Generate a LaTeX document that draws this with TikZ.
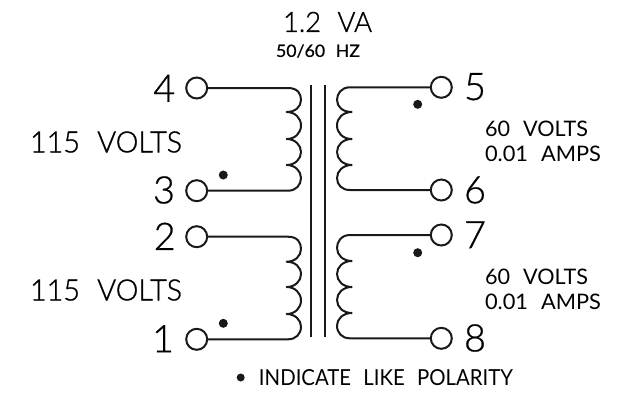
\documentclass[tikz,border=0pt]{standalone}
\usepackage{fontspec}
\usepackage{graphicx}
\setmainfont[FakeBold=0.6]{Lato Light}
\newfontfamily\labfont{Lato}
\newfontfamily\hzfont[FakeBold=0.6]{Lato}
\newfontfamily\bigfont[FakeBold=1]{Lato Light}
\newcommand{\wsp}{\hspace{0.6em}}
\newcommand{\fitbox}[3]{\resizebox{#1pt}{#2pt}{#3}}
\tikzset{
  wire/.style={line width=2pt,line cap=round,line join=round,black!90},
  core/.style={line width=2pt,black!90},
  term/.style={circle,draw=black!90,line width=2pt,minimum size=21pt,inner sep=0pt,fill=white},
  pol/.style={circle,fill=black!90,minimum size=9pt,inner sep=0pt},
  num/.style={font=\fontsize{38}{38}\selectfont,inner sep=0pt,anchor=center},
  lab/.style={font=\bigfont,inner sep=0pt,anchor=center},
  reg/.style={font=\labfont,inner sep=0pt,anchor=center},
  hzlab/.style={font=\hzfont,inner sep=0pt,anchor=center}
}
\begin{document}
\begin{tikzpicture}[x=1pt,y=-1pt]
\useasboundingbox (0,0) rectangle (631,400);
\fill[white] (0,0) rectangle (631,400);
% core
\coordinate (c1t) at (310.7,85); \coordinate (c1b) at (310.7,337);
\coordinate (c2t) at (325.3,85); \coordinate (c2b) at (325.3,337);
\draw[core] (c1t) -- (c1b);
\draw[core] (c2t) -- (c2b);
% terminals
\node[term] (t4) at (196.7,88) {};
\node[term] (t3) at (196.7,190.7) {};
\node[term] (t2) at (196.7,236.7) {};
\node[term] (t1) at (196.7,339.3) {};
\node[term] (t5) at (441.3,87.3) {};
\node[term] (t6) at (441.3,190) {};
\node[term] (t7) at (441.3,235) {};
\node[term] (t8) at (441.3,338.3) {};
% windings
\draw[wire] (t4.east) -- (288,88)
  .. controls (298,88) and (301,94) .. (301,100)
  .. controls (301,107) and (295,112) .. (286.7,112)
  .. controls (295,112) and (301,118) .. (301,125.5)
  .. controls (301,133) and (295,139) .. (286.7,139)
  .. controls (295,139) and (301,145) .. (301,152)
  .. controls (301,159) and (295,165) .. (286.7,165)
  .. controls (295,165) and (301,171) .. (301,178)
  .. controls (301,185) and (296,190.7) .. (288,190.7) -- (t3.east);
\draw[wire] (t2.east) -- (288,236.7)
  .. controls (298,236.7) and (301,243) .. (301,249)
  .. controls (301,256) and (295,261.7) .. (286.7,261.7)
  .. controls (295,261.7) and (301,267) .. (301,274.3)
  .. controls (301,281) and (295,287) .. (286.7,287)
  .. controls (295,287) and (301,293) .. (301,300.5)
  .. controls (301,308) and (295,314) .. (286.7,314)
  .. controls (295,314) and (301,320) .. (301,326.5)
  .. controls (301,334) and (296,339.3) .. (288,339.3) -- (t1.east);
\draw[wire] (t5.west) -- (350,87.3)
  .. controls (341,87.3) and (337,94) .. (337,100)
  .. controls (337,107) and (343,112) .. (351.7,112)
  .. controls (343,112) and (337,118) .. (337,125.5)
  .. controls (337,133) and (343,139) .. (351.7,139)
  .. controls (343,139) and (337,145) .. (337,152)
  .. controls (337,159) and (343,165) .. (351.7,165)
  .. controls (343,165) and (337,171) .. (337,178)
  .. controls (337,185) and (342,190) .. (350,190) -- (t6.west);
\draw[wire] (t7.west) -- (350,235)
  .. controls (341,235) and (337,242) .. (337,248)
  .. controls (337,255) and (343,261) .. (351.7,261)
  .. controls (343,261) and (337,267) .. (337,274)
  .. controls (337,281) and (343,287) .. (351.7,287)
  .. controls (343,287) and (337,293) .. (337,300)
  .. controls (337,307) and (343,313) .. (351.7,313)
  .. controls (343,313) and (337,319) .. (337,325.5)
  .. controls (337,333) and (342,338.3) .. (350,338.3) -- (t8.west);
% dots
\node[pol] (d1) at (223.3,175) {};
\node[pol] (d2) at (417.7,104.3) {};
\node[pol] (d3) at (223.3,323.3) {};
\node[pol] (d4) at (417.7,252.7) {};
\node[pol,minimum size=8pt] (d5) at (240.7,377.5) {};
% numbers
\node[num] (n4) at (164.3,88.3) {4};
\node[num] (n3) at (164,190) {3};
\node[num] (n2) at (164.7,236.3) {2};
\node[num] (n1) at (163,338.7) {1};
\node[num] (n5) at (475,86.7) {5};
\node[num] (n6) at (475,190) {6};
\node[num] (n7) at (475,234.7) {7};
\node[num] (n8) at (475,338) {8};
% labels
\node[lab] (va) at (327.5,22) {\fitbox{89}{20}{1.2\wsp VA}};
\node[hzlab] (hz) at (318,51) {\fitbox{84}{12.5}{50/60\wsp HZ}};
\node[lab] (v1) at (106,142) {\fitbox{152}{21}{115\wsp VOLTS}};
\node[lab] (v2) at (106,290) {\fitbox{152}{21}{115\wsp VOLTS}};
\node[reg] (r1) at (536.5,128.5) {\fitbox{103}{15.5}{60\wsp VOLTS}};
\node[reg] (r2) at (543,154) {\fitbox{116}{15.5}{0.01\wsp AMPS}};
\node[reg] (r3) at (536.5,276.5) {\fitbox{103}{15.5}{60\wsp VOLTS}};
\node[reg] (r4) at (543,302) {\fitbox{116}{15.5}{0.01\wsp AMPS}};
\node[reg] (lk) at (386,378) {\fitbox{254}{16}{INDICATE\wsp LIKE\wsp POLARITY}};
\end{tikzpicture}
\end{document}
